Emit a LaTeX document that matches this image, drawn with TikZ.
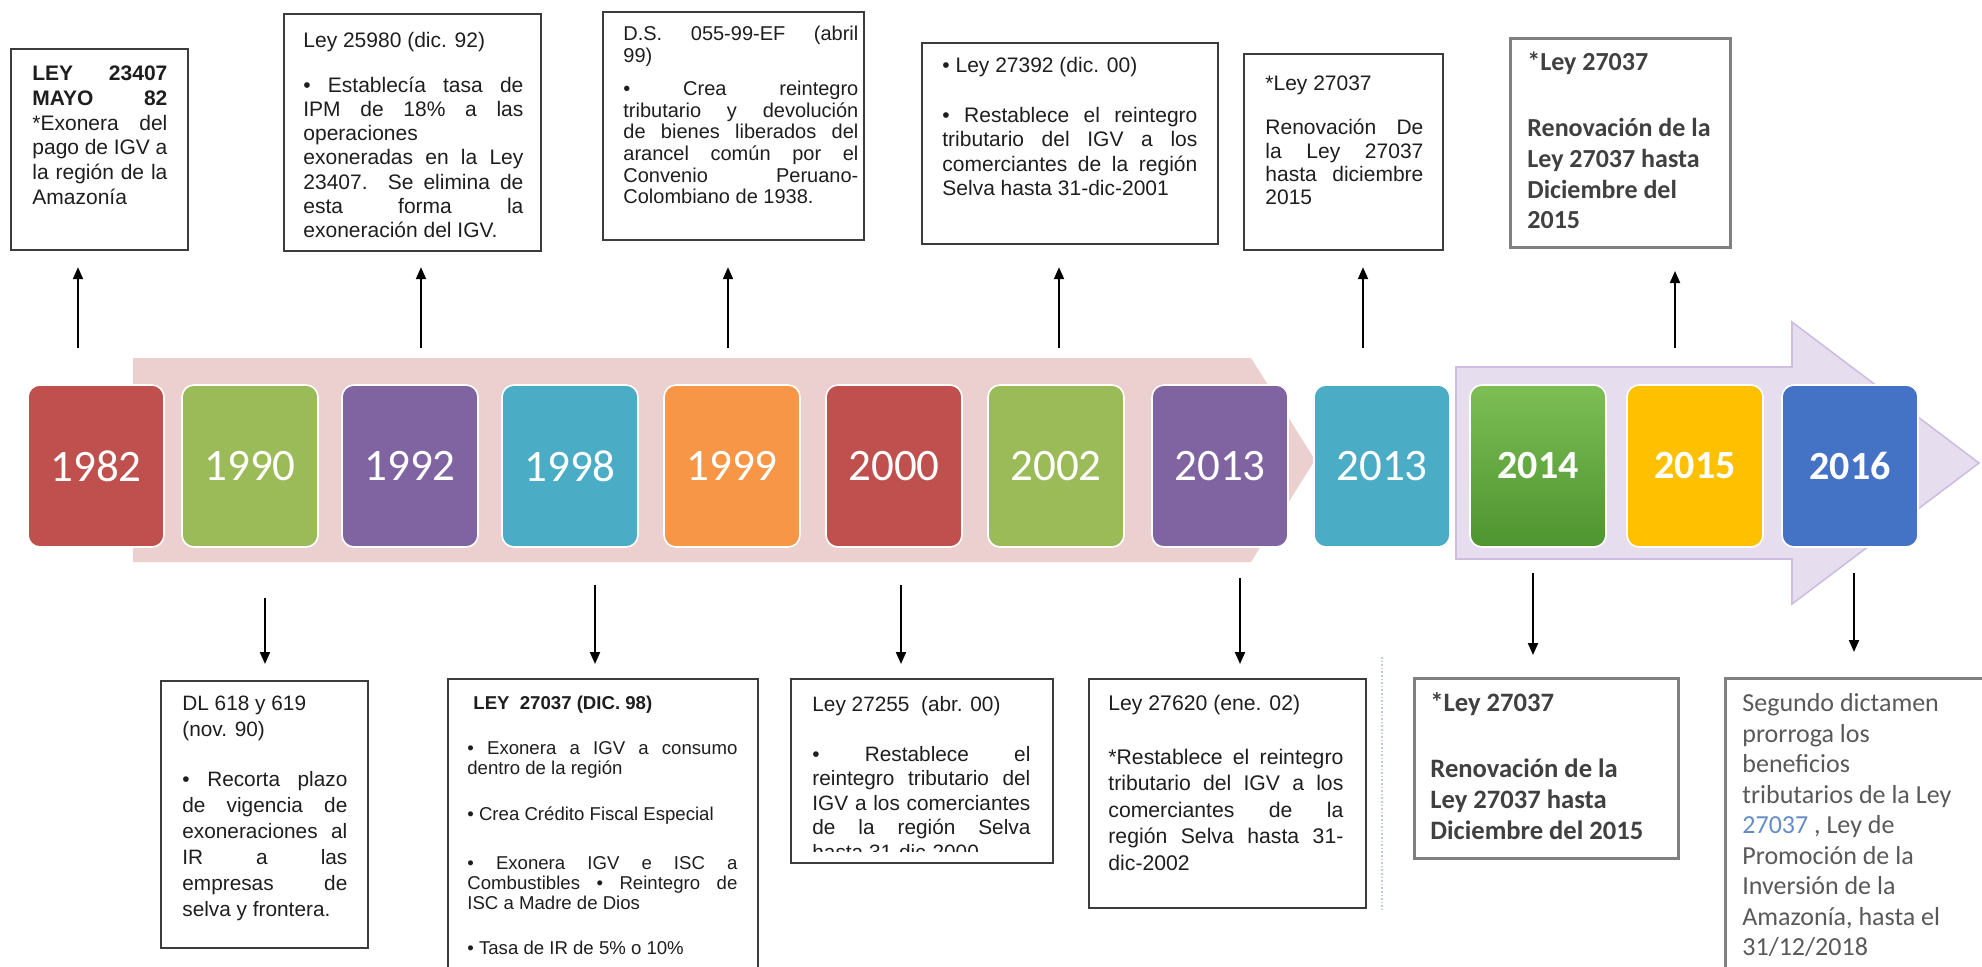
\documentclass[tikz,border=0pt]{standalone}
\usepackage{fontspec}
\setmainfont{Liberation Sans}
\newfontfamily\carl{Carlito}
\usetikzlibrary{arrows.meta}
\definecolor{cRed}{RGB}{192,80,77}
\definecolor{cGreen}{RGB}{155,187,89}
\definecolor{cPurple}{RGB}{128,100,162}
\definecolor{cTeal}{RGB}{75,172,198}
\definecolor{cOrange}{RGB}{247,150,70}
\definecolor{cYellow}{RGB}{255,192,0}
\definecolor{cBlue}{RGB}{68,114,196}
\definecolor{cPink}{RGB}{236,207,207}
\definecolor{cLav}{RGB}{230,222,239}
\definecolor{cLavEdge}{RGB}{205,190,225}
\definecolor{txt}{RGB}{30,30,30}
\definecolor{gtxt}{RGB}{64,64,64}
\definecolor{gtwelve}{RGB}{89,89,89}
\definecolor{lnk}{RGB}{100,140,200}
\definecolor{bord}{RGB}{60,60,60}
\definecolor{gbord}{RGB}{128,128,128}
\definecolor{dotc}{RGB}{190,200,222}
\newcommand\jst[1]{\hbox to\hsize{\strut#1}}
\newcommand\lft[1]{\hbox to\hsize{\strut#1\hfil}}
\newcommand\tbx[2]{\vbox{\hsize=#1\relax#2}}
\tikzset{
  yr/.style={rounded corners=6pt, minimum width=68pt, minimum height=81pt, draw=white, line width=0.8pt, text=white, font=\carl\fontsize{22.5pt}{27pt}\selectfont, inner sep=0pt},
  yrb/.style={yr, font=\carl\bfseries\fontsize{20pt}{24pt}\selectfont},
  box/.style={draw=bord, line width=1.1pt, anchor=north west, inner sep=0pt},
  gbox/.style={box, draw=gbord, line width=1.5pt},
  tx/.style={anchor=north west, inner sep=0pt, text=txt},
  arr/.style={draw=black, line width=1pt, -{Triangle[length=6pt,width=5pt]}},
}
\begin{document}
\begin{tikzpicture}[x=0.5pt, y=-0.5pt]
\path[use as bounding box] (0,0) rectangle (1982,966);
\clip (0,0) rectangle (1982,966);
\fill[white] (0,0) rectangle (1982,966);

% bands
\fill[cPink] (133,358) -- (1251,358) -- (1315,460) -- (1251,562) -- (133,562) -- cycle;
\filldraw[fill=cLav, draw=cLavEdge, line width=0.8pt] (1456,367) -- (1792,367) -- (1792,322) -- (1979,463) -- (1792,604) -- (1792,559) -- (1456,559) -- cycle;

% years
\node[yr, fill=cRed] (y1) at (96,466) {1982};
\node[yr, fill=cGreen] (y2) at (250,466) {1990};
\node[yr, fill=cPurple] (y3) at (410,466) {1992};
\node[yr, fill=cTeal] (y4) at (570,466) {1998};
\node[yr, fill=cOrange] (y5) at (732,466) {1999};
\node[yr, fill=cRed] (y6) at (894,466) {2000};
\node[yr, fill=cGreen] (y7) at (1056,466) {2002};
\node[yr, fill=cPurple] (y8) at (1220,466) {2013};
\node[yr, fill=cTeal] (y9) at (1382,466) {2013};
\node[yrb, top color={rgb,255:red,125;green,190;blue,85}, bottom color={rgb,255:red,78;green,148;blue,48}] (y10) at (1538,466) {2014};
\node[yrb, fill=cYellow] (y11) at (1695,466) {2015};
\node[yrb, fill=cBlue] (y12) at (1850,466) {2016};

% top boxes
\node[box, minimum width=88.5pt, minimum height=100.5pt] (b1) at (10,48) {};
\node[tx, font=\fontsize{10.5pt}{12.35pt}\selectfont] (t1) at (32,63) {\tbx{67.5pt}{%
\jst{\textbf{LEY 23407}}
\jst{\textbf{MAYO 82}}
\jst{*Exonera del}
\jst{pago de IGV a}
\jst{la región de la}
\lft{Amazonía}}};

\node[box, minimum width=128.5pt, minimum height=118.5pt] (b2) at (283,13) {};
\node[tx, font=\fontsize{10.5pt}{12.1pt}\selectfont] (t2) at (303,30) {\tbx{110pt}{%
\lft{Ley 25980 (dic. 92)}
\vskip10.4pt
\jst{• Establecía tasa de}
\jst{IPM de 18\% a las}
\lft{operaciones}
\jst{exoneradas en la Ley}
\jst{23407. Se elimina de}
\jst{esta forma la}
\lft{exoneración del IGV.}}};

\node[box, minimum width=130.5pt, minimum height=114pt] (b3) at (602,11) {};
\node[tx, font=\fontsize{10pt}{10.85pt}\selectfont] (t3) at (623,25) {\tbx{117.5pt}{%
\jst{D.S. 055-99-EF (abril}
\lft{99)}
\vskip5.65pt
\jst{• Crea reintegro}
\jst{tributario y devolución}
\jst{de bienes liberados del}
\jst{arancel común por el}
\jst{Convenio Peruano-}
\lft{Colombiano de 1938.}}};

\node[box, minimum width=148pt, minimum height=100.5pt] (b4) at (921,42) {};
\node[tx, font=\fontsize{10.5pt}{12.15pt}\selectfont] (t4) at (942,55) {\tbx{127.5pt}{%
\lft{• Ley 27392 (dic. 00)}
\vskip12.85pt
\jst{• Restablece el reintegro}
\jst{tributario del IGV a los}
\jst{comerciantes de la región}
\lft{Selva hasta 31-dic-2001}}};

\node[box, minimum width=99.5pt, minimum height=98pt] (b5) at (1243,53) {};
\node[tx, font=\fontsize{10.5pt}{11.65pt}\selectfont] (t5) at (1265,74) {\tbx{79pt}{%
\lft{*Ley 27037}
\vskip10.35pt
\jst{Renovación De}
\jst{la Ley 27037}
\jst{hasta diciembre}
\lft{2015}}};

\node[gbox, minimum width=110pt, minimum height=104.5pt] (b6) at (1509,37) {};
\node[tx, text=gtxt, font=\carl\bfseries\fontsize{13pt}{15.35pt}\selectfont] (t6) at (1527,48.5) {\tbx{100pt}{%
\lft{*Ley 27037}
\vskip17.8pt
\lft{Renovación de la}
\lft{Ley 27037 hasta}
\lft{Diciembre del}
\lft{2015}}};

% bottom boxes
\node[box, minimum width=103.5pt, minimum height=133.5pt] (b7) at (160,680) {};
\node[tx, font=\fontsize{10.4pt}{13pt}\selectfont] (t7) at (182,692) {\tbx{82.5pt}{%
\lft{DL 618 y 619}
\lft{(nov. 90)}
\vskip12pt
\jst{• Recorta plazo}
\jst{de vigencia de}
\jst{exoneraciones al}
\jst{IR a las}
\jst{empresas de}
\lft{selva y frontera.}}};

\node[box, minimum width=155pt, minimum height=160pt] (b8) at (447,678) {};
\node[tx, font=\fontsize{9.3pt}{10pt}\selectfont] (t8) at (467,695) {\tbx{135pt}{%
\lft{\hspace{3pt}\textbf{LEY\ \ 27037 (DIC. 98)}}
\vskip12.5pt
\jst{• Exonera a IGV a consumo}
\lft{dentro de la región}
\vskip13pt
\lft{• Crea Crédito Fiscal Especial}
\vskip14.5pt
\jst{• Exonera IGV e ISC a}
\jst{Combustibles • Reintegro de}
\lft{ISC a Madre de Dios}
\vskip12.5pt
\lft{• Tasa de IR de 5\% o 10\%}}};

\begin{scope}
\clip (790,678) rectangle (1052,851);
\node[tx, font=\fontsize{10.4pt}{12.2pt}\selectfont] (t9) at (812,694) {\tbx{109pt}{%
\lft{Ley 27255 \ (abr. 00)}
\vskip12.8pt
\jst{• Restablece el}
\jst{reintegro tributario del}
\jst{IGV a los comerciantes}
\jst{de la región Selva}
\lft{hasta 31-dic-2000}}};
\end{scope}
\node[box, minimum width=131pt, minimum height=92pt] (b9) at (790,678) {};

\node[box, minimum width=138.5pt, minimum height=114.5pt] (b10) at (1088,678) {};
\node[tx, font=\fontsize{10.6pt}{13.25pt}\selectfont] (t10) at (1108,691.5) {\tbx{117.5pt}{%
\lft{Ley 27620 (ene. 02)}
\vskip13.75pt
\jst{*Restablece el reintegro}
\jst{tributario del IGV a los}
\jst{comerciantes de la}
\jst{región Selva hasta 31-}
\lft{dic-2002}}};

\node[gbox, minimum width=132pt, minimum height=90pt] (b11) at (1413,677) {};
\node[tx, text=gtxt, font=\carl\bfseries\fontsize{13.3pt}{15.5pt}\selectfont] (t11) at (1430,689) {\tbx{120pt}{%
\lft{*Ley 27037}
\vskip17.5pt
\lft{Renovación de la}
\lft{Ley 27037 hasta}
\lft{Diciembre del 2015}}};

\node[gbox, minimum width=160pt, minimum height=170pt] (b12) at (1724,677) {};
\node[tx, text=gtwelve, font=\carl\fontsize{13pt}{15.25pt}\selectfont] (t12) at (1742,690) {\tbx{120pt}{%
\lft{Segundo dictamen}
\lft{prorroga los}
\lft{beneficios}
\lft{tributarios de la Ley}
\lft{\textcolor{lnk}{27037} , Ley de}
\lft{Promoción de la}
\lft{Inversión de la}
\lft{Amazonía, hasta el}
\lft{31/12/2018}}};

% faint dotted line
\coordinate (dl1) at (1382,657);
\coordinate (dl2) at (1382,910);
\draw[dotc, densely dotted, line width=0.8pt] (dl1) -- (dl2);

% up arrows
\coordinate (u1) at (78,348);
\coordinate (u2) at (421,348);
\coordinate (u3) at (728,348);
\coordinate (u4) at (1059,348);
\coordinate (u5) at (1363,348);
\coordinate (u6) at (1675,348);
\draw[arr, shorten >=8pt] (u1) -- (u1 |- b1.south);
\draw[arr, shorten >=7.5pt] (u2) -- (u2 |- b2.south);
\draw[arr, shorten >=13pt] (u3) -- (u3 |- b3.south);
\draw[arr, shorten >=11pt] (u4) -- (u4 |- b4.south);
\draw[arr, shorten >=8pt] (u5) -- (u5 |- b5.south);
\draw[arr, shorten >=11pt] (u6) -- (u6 |- b6.south);

% down arrows
\coordinate (d1) at (265,598);
\coordinate (d2) at (595,585);
\coordinate (d3) at (901,585);
\coordinate (d4) at (1240,578);
\coordinate (d5) at (1533,573);
\coordinate (d6) at (1854,573);
\draw[arr, shorten >=8pt] (d1) -- (d1 |- b7.north);
\draw[arr, shorten >=7pt] (d2) -- (d2 |- b8.north);
\draw[arr, shorten >=7pt] (d3) -- (d3 |- b9.north);
\draw[arr, shorten >=7pt] (d4) -- (d4 |- b10.north);
\draw[arr, shorten >=11pt] (d5) -- (d5 |- b11.north);
\draw[arr, shorten >=12.5pt] (d6) -- (d6 |- b12.north);
\end{tikzpicture}
\end{document}
